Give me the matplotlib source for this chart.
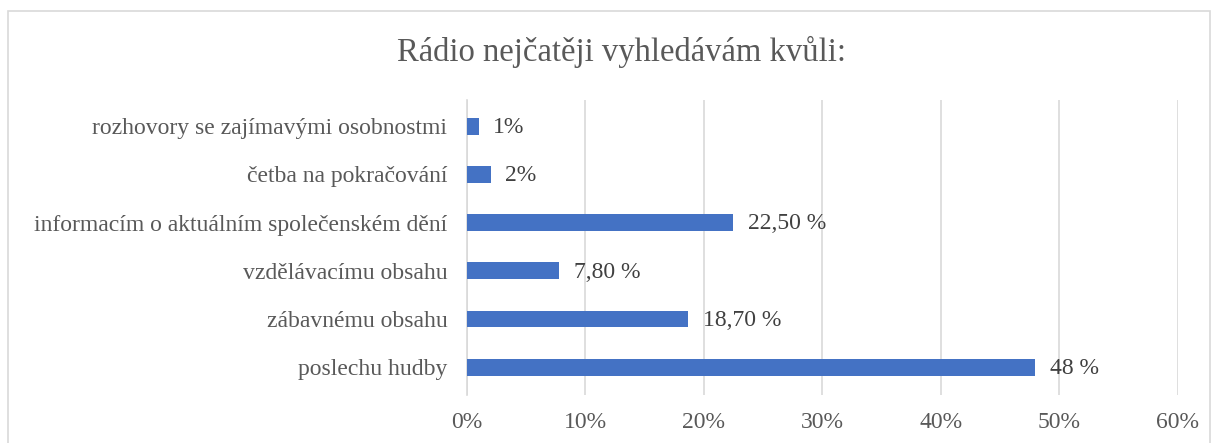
import matplotlib.pyplot as plt
from matplotlib.patches import Rectangle
from matplotlib.ticker import FuncFormatter

# data (bottom to top)
categories = ['poslechu hudby', 'zábavnému obsahu', 'vzdělávacímu obsahu',
              'informacím o aktuálním společenském dění', 'četba na pokračování',
              'rozhovory se zajímavými osobnostmi']
values = [48, 18.7, 7.8, 22.5, 2, 1]
value_labels = ['48 %', '18,70 %', '7,80 %', '22,50 %', '2%', '1%']
title = 'Rádio nejčatěji vyhledávám kvůli:'

plt.rcParams['font.family'] = ['Liberation Serif', 'DejaVu Serif']

fig = plt.figure(figsize=(12.19, 4.43), dpi=100)
ax = fig.add_axes([0.383, 0.108, 0.583, 0.666])

ax.barh(range(len(categories)), values, height=0.35, color='#4472C4', zorder=3)
for i, (v, lab) in enumerate(zip(values, value_labels)):
    ax.annotate(lab, (v, i), xytext=(10.5, -1), textcoords='offset points',
                va='center', ha='left', fontsize=17, color='#404040')

ax.set_xlim(0, 60)
ax.set_ylim(-0.58, 5.54)
ax.set_xticks(range(0, 61, 10))
ax.xaxis.set_major_formatter(FuncFormatter(lambda x, p: f'{int(x)}%'))
ax.set_yticks(range(len(categories)))
ax.set_yticklabels(categories)
ax.tick_params(axis='both', length=0, labelsize=17, labelcolor='#595959')
ax.tick_params(axis='x', pad=12)
ax.tick_params(axis='y', pad=14)
ax.grid(axis='x', color='#d9d9d9', linewidth=1.2, zorder=0)
for s in ['top', 'right', 'bottom']:
    ax.spines[s].set_visible(False)
ax.spines['left'].set_color('#d9d9d9')
ax.spines['left'].set_linewidth(1.2)

fig.text(0.51, 0.883, title, ha='center', va='center', fontsize=23.5, color='#595959')

fig.patches.append(Rectangle((0.0066, -0.01), 0.986, 0.985, transform=fig.transFigure,
                             fill=False, edgecolor='#d9d9d9', linewidth=1.2))

fig.savefig('out.png', dpi=100)
